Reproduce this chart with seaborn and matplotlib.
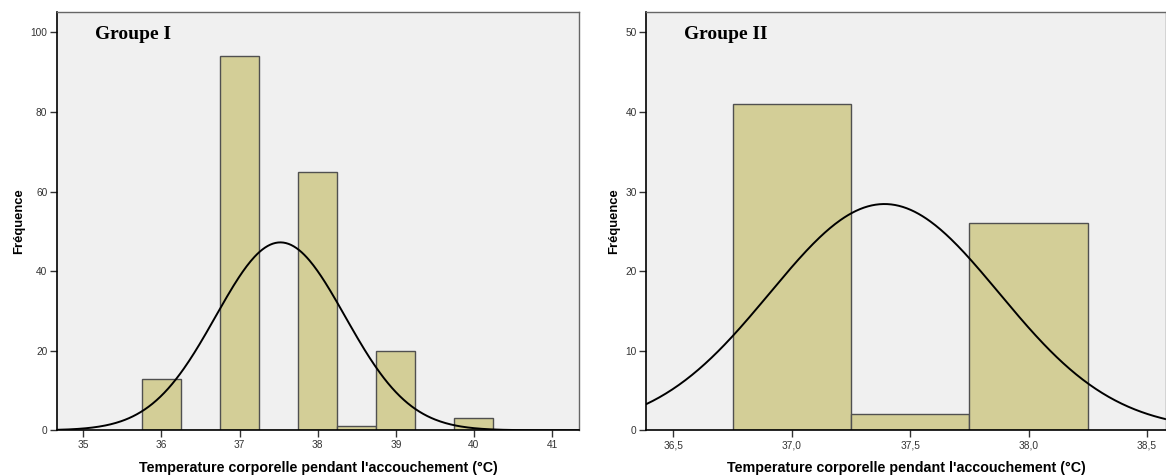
import numpy as np
import pandas as pd
import matplotlib
matplotlib.use("Agg")
import matplotlib.pyplot as plt
from matplotlib.ticker import FuncFormatter, MultipleLocator
import seaborn as sns

# Temperature classes (bin centres, °C) and counts per group
temp_g1 = [36.0, 37.0, 38.0, 38.5, 39.0, 40.0]
count_g1 = [13, 94, 65, 1, 20, 3]

temp_g2 = [37.0, 37.5, 38.0]
count_g2 = [41, 2, 26]

titles = ["Groupe I", "Groupe II"]
xlabel = "Temperature corporelle pendant l'accouchement (°C)"
ylabel = "Fréquence"

bin_width = 0.5
bar_color = "#D3CE97"
bg_color = "#F0F0F0"

sns.set_theme(style="white")
plt.rcParams["font.family"] = ["Liberation Sans", "DejaVu Sans"]
plt.rcParams["text.color"] = "black"
plt.rcParams["axes.labelcolor"] = "black"

fig = plt.figure(figsize=(11.66, 4.75), dpi=100)
W, H = 1166, 475


def px_axes(x0, x1, y0, y1):
    return fig.add_axes([x0 / W, 1 - y1 / H, (x1 - x0) / W, (y1 - y0) / H])


ax1 = px_axes(57, 579, 11.7, 430.3)
ax2 = px_axes(646.3, 1166, 11.7, 430.3)


def draw_group(ax, temps, counts, title, xlim, ylim, xstep, ystep, comma):
    df = pd.DataFrame({"temp": temps, "n": counts})
    lo = min(temps) - bin_width / 2
    hi = max(temps) + bin_width / 2
    sns.histplot(data=df, x="temp", weights="n", binwidth=bin_width,
                 binrange=(lo, hi), color=bar_color, alpha=1.0,
                 edgecolor="#505050", linewidth=1.0, ax=ax)
    # fitted normal curve scaled to counts
    vals = np.repeat(df["temp"].to_numpy(), df["n"].to_numpy())
    mu, sd = vals.mean(), vals.std(ddof=1)
    xs = np.linspace(xlim[0], xlim[1], 400)
    ys = len(vals) * bin_width / (sd * np.sqrt(2 * np.pi)) * np.exp(-0.5 * ((xs - mu) / sd) ** 2)
    sns.lineplot(x=xs, y=ys, color="black", linewidth=1.4, ax=ax)

    ax.set_facecolor(bg_color)
    ax.set_xlim(*xlim)
    ax.set_ylim(*ylim)
    ax.xaxis.set_major_locator(MultipleLocator(xstep))
    ax.yaxis.set_major_locator(MultipleLocator(ystep))
    if comma:
        ax.xaxis.set_major_formatter(FuncFormatter(lambda v, p: f"{v:.1f}".replace(".", ",")))
    else:
        ax.xaxis.set_major_formatter(FuncFormatter(lambda v, p: f"{v:.0f}"))
    ax.tick_params(axis="both", which="major", direction="out", length=5, width=1,
                   color="#333333", labelsize=7.3, labelcolor="#333333", pad=2,
                   bottom=True, left=True)
    for side in ["left", "bottom"]:
        ax.spines[side].set_color("black")
        ax.spines[side].set_linewidth(1.2)
    for side in ["top", "right"]:
        ax.spines[side].set_color("#666666")
        ax.spines[side].set_linewidth(1.0)
        ax.spines[side].set_visible(True)
    ax.set_xlabel(xlabel, fontsize=10.3, fontweight="bold", labelpad=8, color="black")
    ax.set_ylabel(ylabel, fontsize=9.4, fontweight="bold", labelpad=4, color="black")
    ax.text(0.073, 0.935, title, transform=ax.transAxes, fontsize=14, color="black",
            fontweight="bold", family="Liberation Serif", ha="left", va="baseline")


draw_group(ax1, temp_g1, count_g1, titles[0], (34.664, 41.345), (0, 105.2), 1, 20, False)
draw_group(ax2, temp_g2, count_g2, titles[1], (36.386, 38.58), (0, 52.6), 0.5, 10, True)

fig.savefig("out.png", dpi=100, facecolor="white")
